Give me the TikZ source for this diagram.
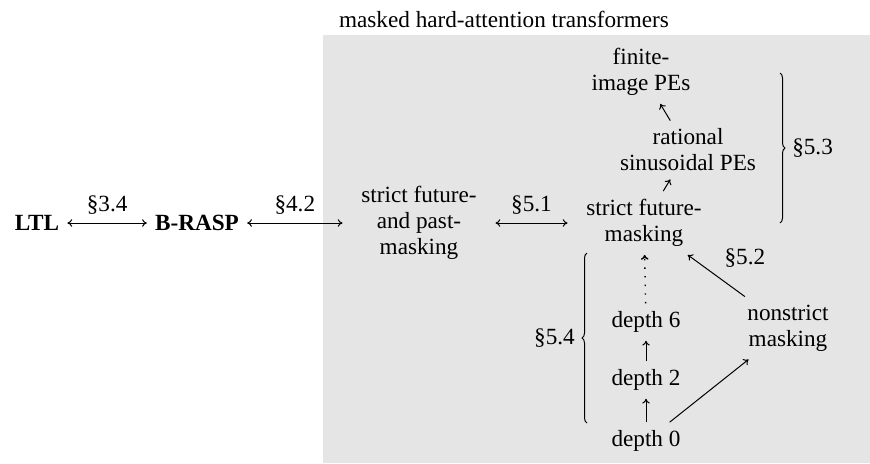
\documentclass[tikz,border=0pt]{standalone}
\usepackage{fontspec}
\setmainfont{Liberation Serif}
\usetikzlibrary{decorations.pathreplacing, arrows.meta}
\tikzset{
  >={To[length=2.4pt, width=3.8pt]},
  every path/.style={line width=0.5pt},
  model/.style={align=center, minimum width=76pt},
  logic/.style={font=\bfseries},
  sectbrace/.style={decorate, decoration={brace, amplitude=2.5pt}},
  sparse dots/.style={line width=0.7pt, dash pattern=on 0.7pt off 3.6pt},
}

\begin{document}
\fontsize{11.6}{13}\selectfont
\begin{tikzpicture}[x=0.5pt, y=-0.5pt]
		\useasboundingbox (0,0) rectangle (870,463);

		% background
		\fill[gray!20] (323,35) rectangle (870,463);
		\node (title) at (504,19) {masked hard-attention transformers};

		% logics
		\node[logic] (ltl) at (37,223) {LTL};
		\node[logic] (brasp) at (197,223) {B-RASP};

		% transformers
		\node[model] (both) at (419,223) {strict future-\\and past-\\masking};
		\node[model] (strict) at (644,223) {strict future-\\masking};
		\node[model] (rational) at (688,150) {rational\\sinusoidal PEs};
		\node[model] (finite) at (641,72) {finite-\\image PEs};
		\node[model] (nonstrict) at (788,328) {nonstrict\\masking};
		\node (d6) at (646,322) {depth 6};
		\node (d2) at (646,380) {depth 2};
		\node (d0) at (646,441) {depth 0};

		% brace ends
		\coordinate (pe top) at (780,73);
		\coordinate (pe bot) at (780,223);
		\coordinate (dp top) at (587,253);
		\coordinate (dp bot) at (587,423);

		% equivalences
		\draw (ltl) edge[<->] node[above]{\S3.4} (brasp)
		(brasp) edge[<->] node[above]{\S4.2} (both)
		(both) edge[<->] node[above]{\S5.1} (strict);

		% inclusions
		\draw (strict) edge[->] (rational)
		(rational) edge[->] (finite)
		(nonstrict) edge[->] node[above right]{\S5.2} (strict)
		(d0) edge[->] (nonstrict)
		(d0) edge[->] (d2)
		(d2) edge[->] (d6)
		(d6) edge[->, sparse dots] (strict);

		% braces
		\draw[sectbrace] (pe top) -- (pe bot) node[midway, right=2pt]{\S5.3};
		\draw[sectbrace] (dp bot) -- (dp top) node[midway, left=2pt]{\S5.4};

	\end{tikzpicture}
\end{document}
